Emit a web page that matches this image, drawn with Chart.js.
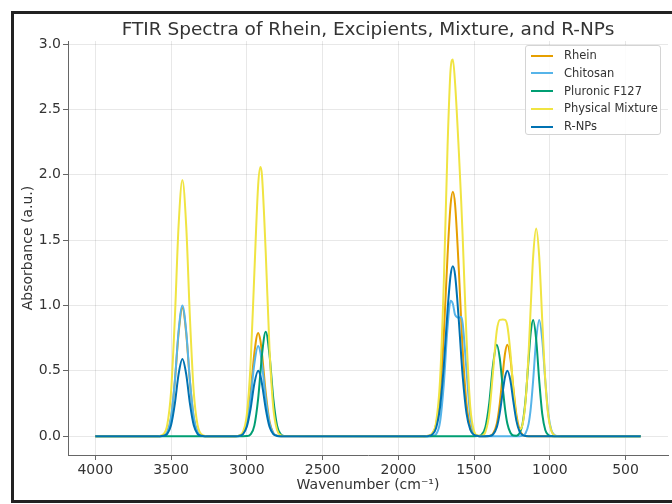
<!DOCTYPE html>
<html>
<head>
<meta charset="utf-8">
<script src="https://cdn.jsdelivr.net/npm/chart.js@4/dist/chart.umd.min.js"></script>
<style>
    body { margin: 0; width: 672px; height: 504px; overflow: hidden; background: #fff; position: relative; }
    #frame { position: absolute; left: 11px; top: 11px; width: 700px; height: 492px; border: 3px solid #222; box-sizing: border-box; }
    #ftir-chart { position: absolute; left: 0; top: 0; z-index: 1; }
    #legend { position: absolute; left: 525px; top: 45px; width: 136px; height: 90px; box-sizing: border-box;
              border: 1px solid #d4d4d4; border-radius: 3px; background: rgba(255,255,255,0.85); z-index: 2;
              font: 11.5px "DejaVu Sans", sans-serif; color: #333; padding-top: 1px; }
    #legend .row { height: 17.75px; line-height: 17.75px; white-space: nowrap; }
    #legend .swatch { display: inline-block; width: 22px; height: 2px; margin: 0 11px 0 5px; vertical-align: middle; }
</style>
</head>
<body>
<div id="frame"></div>
<canvas id="ftir-chart" width="672" height="504"></canvas>
<div id="legend"></div>
<script>
const chartTitle = 'FTIR Spectra of Rhein, Excipients, Mixture, and R-NPs';

const wavenumbers = [4000,
    3600, 3575, 3550, 3525, 3500, 3475, 3450, 3425, 3400, 3375, 3350, 3325, 3300, 3275, 3250,
    3075, 3050, 3025, 3000, 2975, 2950, 2925, 2910, 2900, 2875, 2850, 2825, 2800, 2775, 2750,
    1825, 1800, 1775, 1750, 1725, 1700, 1675, 1655, 1640, 1625, 1600, 1585, 1575, 1550, 1525, 1500, 1475, 1450,
    1425, 1400, 1375, 1350, 1330, 1310, 1295, 1280, 1260, 1240, 1220, 1200, 1180, 1160, 1140,
    1125, 1110, 1090, 1070, 1050, 1030, 1010, 990, 970, 950, 925,
    400];

const rhein = [0,
    0, 0, 0.004, 0.031, 0.14, 0.413, 0.789, 0.98, 0.789, 0.413, 0.14, 0.031, 0.004, 0, 0,
    0, 0.004, 0.025, 0.113, 0.333, 0.636, 0.79, 0.731, 0.636, 0.333, 0.113, 0.025, 0.004, 0, 0,
    0, 0.003, 0.021, 0.094, 0.314, 0.769, 1.382, 1.769, 1.87, 1.769, 1.26, 0.886, 0.658, 0.252, 0.071, 0.015, 0.002, 0,
    0, 0.002, 0.018, 0.095, 0.252, 0.485, 0.638, 0.70, 0.594, 0.364, 0.161, 0.051, 0.012, 0.002, 0,
    0, 0, 0, 0, 0, 0, 0, 0, 0, 0, 0,
    0];

const chitosan = [0,
    0, 0, 0.005, 0.031, 0.143, 0.421, 0.805, 1.0, 0.805, 0.421, 0.143, 0.031, 0.005, 0, 0,
    0, 0.003, 0.022, 0.099, 0.29, 0.555, 0.69, 0.638, 0.555, 0.29, 0.099, 0.022, 0.003, 0, 0,
    0, 0, 0.001, 0.016, 0.105, 0.395, 0.832, 1.036, 1.013, 0.928, 0.906, 0.914, 0.862, 0.504, 0.153, 0.023, 0.002, 0,
    0, 0, 0, 0, 0, 0, 0, 0, 0, 0, 0, 0, 0.003, 0.022, 0.094,
    0.222, 0.427, 0.74, 0.89, 0.74, 0.427, 0.17, 0.047, 0.009, 0.001, 0,
    0];

const pluronic = [0,
    0, 0, 0, 0, 0, 0, 0, 0, 0, 0, 0, 0, 0, 0, 0,
    0, 0, 0, 0.001, 0.014, 0.081, 0.288, 0.486, 0.62, 0.8, 0.62, 0.288, 0.081, 0.014, 0.001,
    0, 0, 0, 0, 0, 0, 0, 0, 0, 0, 0, 0, 0, 0, 0, 0, 0.001, 0.012,
    0.071, 0.252, 0.543, 0.70, 0.594, 0.364, 0.204, 0.095, 0.026, 0.005, 0.004, 0.022, 0.094, 0.282, 0.589,
    0.803, 0.89, 0.74, 0.427, 0.17, 0.047, 0.009, 0.001, 0, 0, 0,
    0];

const physicalMixture = [0,
    0, 0.002, 0.015, 0.086, 0.337, 0.898, 1.613, 1.96, 1.613, 0.898, 0.337, 0.086, 0.015, 0.002, 0,
    0, 0.005, 0.033, 0.164, 0.55, 1.25, 1.92, 2.06, 2.0, 1.405, 0.669, 0.216, 0.047, 0.007, 0.001,
    0, 0.003, 0.022, 0.11, 0.419, 1.164, 2.214, 2.805, 2.883, 2.697, 2.166, 1.8, 1.52, 0.756, 0.224, 0.038, 0.005, 0.003,
    0.033, 0.172, 0.491, 0.807, 0.89, 0.893, 0.89, 0.843, 0.638, 0.345, 0.132, 0.052, 0.089, 0.268, 0.638,
    1.016, 1.374, 1.59, 1.374, 0.887, 0.428, 0.154, 0.041, 0.008, 0.001, 0,
    0];

const rNPs = [0,
    0, 0, 0.003, 0.018, 0.084, 0.248, 0.475, 0.59, 0.475, 0.248, 0.084, 0.018, 0.003, 0, 0,
    0, 0.002, 0.016, 0.072, 0.21, 0.403, 0.5, 0.463, 0.403, 0.21, 0.072, 0.016, 0.002, 0, 0,
    0, 0.002, 0.014, 0.065, 0.218, 0.534, 0.961, 1.23, 1.3, 1.23, 0.876, 0.616, 0.458, 0.176, 0.049, 0.01, 0.002, 0,
    0, 0.001, 0.013, 0.068, 0.18, 0.347, 0.456, 0.5, 0.425, 0.26, 0.115, 0.037, 0.009, 0.001, 0,
    0, 0, 0, 0, 0, 0, 0, 0, 0, 0, 0,
    0];

const seriesNames = ['Rhein', 'Chitosan', 'Pluronic F127', 'Physical Mixture', 'R-NPs'];
const seriesValues = [rhein, chitosan, pluronic, physicalMixture, rNPs];
const seriesColors = ['#E69F00', '#56B4E9', '#009E73', '#F0E442', '#0072B2'];

const xTicks = [4000, 3500, 3000, 2500, 2000, 1500, 1000, 500];
const yTicks = [0, 0.5, 1, 1.5, 2, 2.5, 3];

Chart.defaults.font.family = '"DejaVu Sans", sans-serif';
Chart.defaults.color = '#333';

// matplotlib centres the title over the axes, not the canvas
const axesTitle = {
    id: 'axesTitle',
    afterDraw(chart) {
        const { ctx, chartArea } = chart;
        ctx.save();
        ctx.font = '18.5px "DejaVu Sans", sans-serif';
        ctx.fillStyle = '#333';
        ctx.textAlign = 'center';
        ctx.textBaseline = 'alphabetic';
        ctx.fillText(chartTitle, (chartArea.left + chartArea.right) / 2, 35);
        ctx.restore();
    }
};

const datasets = seriesNames.map((name, i) => ({
    label: name,
    data: wavenumbers.map((w, j) => ({ x: w, y: seriesValues[i][j] })),
    borderColor: seriesColors[i],
    backgroundColor: seriesColors[i],
    borderWidth: 2,
    pointRadius: 0,
    fill: false,
    cubicInterpolationMode: 'monotone',
    order: seriesNames.length - i
}));

const gridColor = 'rgba(0,0,0,0.09)';

new Chart(document.getElementById('ftir-chart').getContext('2d'), {
    type: 'line',
    data: { datasets },
    options: {
        responsive: false,
        animation: false,
        devicePixelRatio: 1,
        layout: { padding: { left: 0, right: 4, top: 41, bottom: 0 } },
        plugins: {
            legend: { display: false },
            title: { display: false },
            tooltip: { enabled: false }
        },
        scales: {
            x: {
                type: 'linear',
                reverse: true,
                min: 220,
                max: 4180,
                afterBuildTicks: scale => { scale.ticks = xTicks.map(v => ({ value: v })); },
                afterFit: scale => { scale.height = 49; },
                ticks: {
                    autoSkip: false,
                    maxRotation: 0,
                    padding: 2,
                    color: '#333',
                    font: { size: 14 },
                    callback: v => String(v)
                },
                grid: { color: gridColor, tickColor: '#666', tickLength: 5 },
                border: { color: '#666', width: 1 },
                title: {
                    display: true,
                    text: 'Wavenumber (cm⁻¹)',
                    color: '#333',
                    font: { size: 14 },
                    padding: { top: 0, bottom: 10 }
                }
            },
            y: {
                min: -0.144,
                max: 3.024,
                afterBuildTicks: scale => { scale.ticks = yTicks.map(v => ({ value: v })); },
                afterFit: scale => { scale.width = 68; },
                ticks: {
                    padding: 2,
                    color: '#333',
                    font: { size: 14 },
                    callback: v => v.toFixed(1)
                },
                grid: { color: gridColor, tickColor: '#666', tickLength: 5 },
                border: { color: '#666', width: 1 },
                title: {
                    display: true,
                    text: 'Absorbance (a.u.)',
                    color: '#333',
                    font: { size: 14 },
                    padding: { top: 20, bottom: 0 }
                }
            }
        }
    },
    plugins: [axesTitle]
});

// legend box inside the axes, top right
const legendEl = document.getElementById('legend');
seriesNames.forEach((name, i) => {
    const row = document.createElement('div');
    row.className = 'row';
    const swatch = document.createElement('span');
    swatch.className = 'swatch';
    swatch.style.background = seriesColors[i];
    row.appendChild(swatch);
    row.appendChild(document.createTextNode(name));
    legendEl.appendChild(row);
});
</script>
</body>
</html>
